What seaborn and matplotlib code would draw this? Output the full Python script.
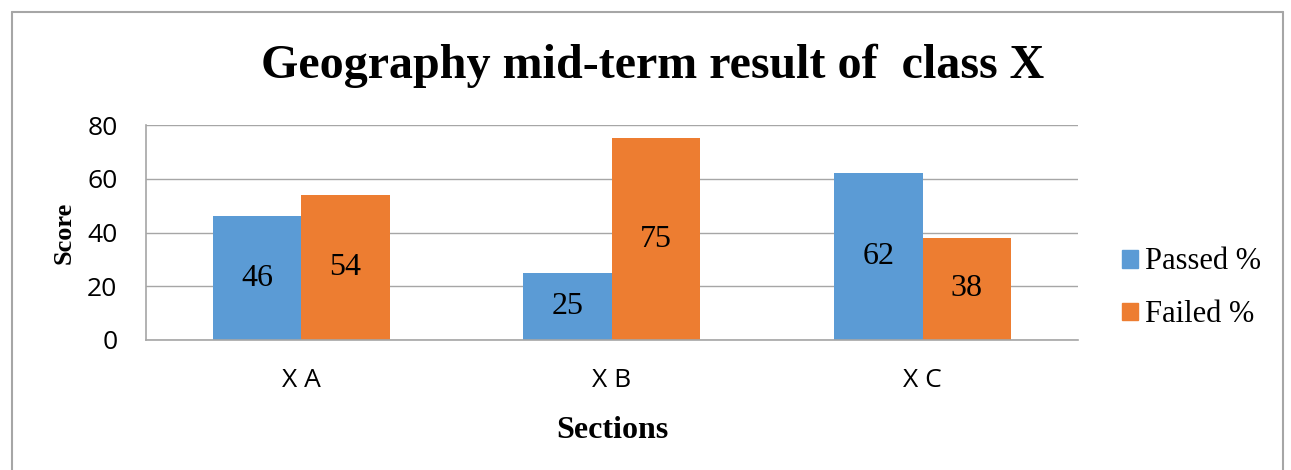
import numpy as np
import pandas as pd
import matplotlib
matplotlib.use("Agg")
import matplotlib.pyplot as plt
import seaborn as sns
from matplotlib.lines import Line2D

# data
sections = ["X A", "X B", "X C"]
passed = [46, 25, 62]
failed = [54, 75, 38]
series_names = ["Passed %", "Failed %"]
colors = ["#5B9BD5", "#ED7D31"]

df = pd.DataFrame({
    "Section": sections * 2,
    "Score": passed + failed,
    "Series": [series_names[0]] * 3 + [series_names[1]] * 3,
})

sns.set_style("white")
plt.rcParams.update({"text.color": "black", "axes.labelcolor": "black",
                     "xtick.color": "black", "ytick.color": "black"})
serif = ["Liberation Serif", "DejaVu Serif"]
sans = ["Open Sans", "DejaVu Sans"]
grid_c = "#A6A6A6"

fig = plt.figure(figsize=(12.91, 4.70), dpi=100)
ax = fig.add_axes([0.113, 0.2766, 0.722, 0.4574])

sns.barplot(data=df, x="Section", y="Score", hue="Series", palette=colors,
            width=0.57, gap=0, saturation=1, ax=ax, legend=False,
            edgecolor="none")

ax.set_ylim(0, 80)
ax.set_xlim(-0.5, 2.5)
ax.set_yticks([0, 20, 40, 60, 80])
ax.yaxis.grid(True, color=grid_c, linewidth=1)
ax.set_axisbelow(True)
for s in ["top", "right"]:
    ax.spines[s].set_visible(False)
for s in ["left", "bottom"]:
    ax.spines[s].set_color(grid_c)
    ax.spines[s].set_linewidth(1.2)

# category boundary ticks below x axis
ax.set_xticks([-0.5, 0.5, 1.5, 2.5], minor=True)
ax.tick_params(axis="x", which="minor", length=7.5, color=grid_c, width=1.2)

ax.tick_params(axis="y", length=7.5, color=grid_c, width=1.2, labelcolor="black",
               pad=13, labelsize=19)
ax.tick_params(axis="x", which="major", length=0, pad=20, labelcolor="black", labelsize=19)
for lbl in ax.get_yticklabels() + ax.get_xticklabels():
    lbl.set_fontfamily(sans)

for cont in ax.containers:
    ax.bar_label(cont, label_type="center", fontsize=23, family=serif)

ax.set_xlabel("Sections", fontsize=23, fontweight="bold", family=serif, labelpad=17)
ax.set_ylabel("Score", fontsize=19, fontweight="bold", family=serif, labelpad=8)

fig.text(0.5054, 1 - 78 / 470, "Geography mid-term result of  class X",
         ha="center", va="baseline", fontsize=34.6, fontweight="bold", family=serif)

handles = [plt.Rectangle((0, 0), 1, 1, color=c) for c in colors]
fig.legend(handles, series_names, loc="center left", bbox_to_anchor=(0.8476, 0.3865),
           frameon=False, prop={"family": serif, "size": 22},
           handlelength=0.52, handleheight=0.52, handletextpad=0.25, labelspacing=0.78)

# chart frame
x0, x1, y1 = 12 / 1291, 1283 / 1291, 1 - 12 / 470
fig.add_artist(Line2D([x0, x0], [0, y1], color=grid_c, lw=1.5, transform=fig.transFigure))
fig.add_artist(Line2D([x0, x1], [y1, y1], color=grid_c, lw=1.5, transform=fig.transFigure))
fig.add_artist(Line2D([x1, x1], [0, y1], color=grid_c, lw=1.5, transform=fig.transFigure))

fig.savefig("out.png", dpi=100)
